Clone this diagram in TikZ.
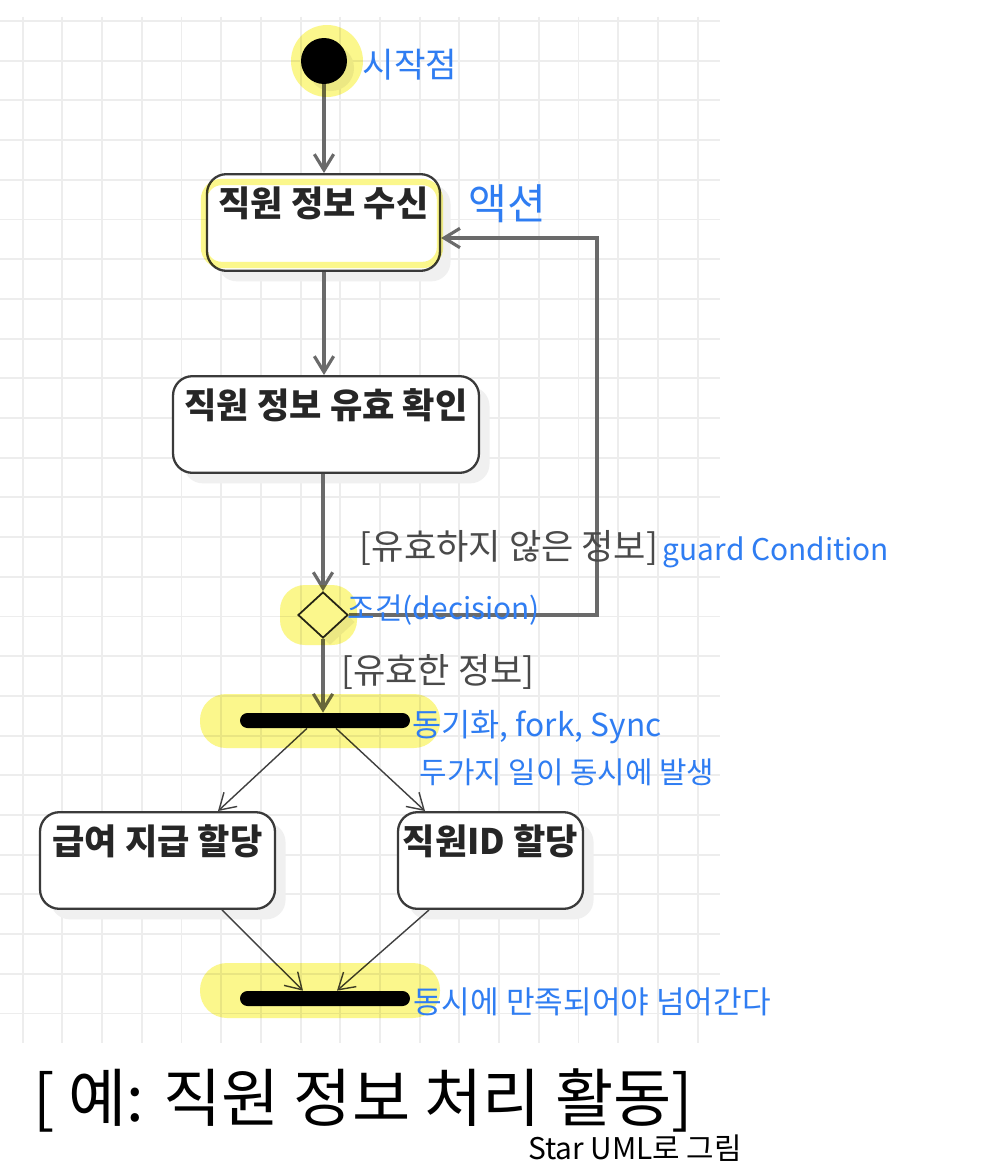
\documentclass[tikz,border=0pt]{standalone}
\usepackage{fontspec}
\setmainfont{Noto Sans CJK KR}
\usetikzlibrary{arrows.meta}
\usetikzlibrary{shapes.geometric}
\usetikzlibrary{shadows}
\definecolor{gridgray}{HTML}{EDEDED}
\definecolor{flowgray}{HTML}{6A6A6A}
\definecolor{boxline}{HTML}{3A3A3A}
\definecolor{noteblue}{HTML}{2F7DF2}
\definecolor{hlyellow}{HTML}{FBF78C}
\definecolor{guardgray}{HTML}{4A4A4A}
\tikzset{
  gridline/.style={draw=gridgray, line width=1.1pt},
  action/.style={draw=boxline, line width=1.3pt, rounded corners=11pt, fill=white,
    inner sep=0pt, text height=24pt, text depth=31pt,
    font=\bfseries\fontsize{20}{22}\selectfont, text=black!85,
    drop shadow={shadow xshift=6pt, shadow yshift=-6pt, fill=black!6, opacity=1}},
  startdot/.style={circle, fill=black, minimum size=0.92cm, inner sep=0pt,
    drop shadow={shadow xshift=4pt, shadow yshift=-4pt, fill=black!6, opacity=1}},
  decision/.style={diamond, draw=black!85, line width=1pt, fill=white,
    minimum width=1cm, minimum height=0.92cm, inner sep=0pt,
    drop shadow={shadow xshift=4pt, shadow yshift=-4pt, fill=black!6, opacity=1}},
  bar/.style={fill=black, rounded corners=0.15cm, minimum width=3.4cm,
    minimum height=0.3cm, inner sep=0pt},
  flow/.style={draw=flowgray, line width=1.8pt, -{Straight Barb[length=9pt,width=11pt]}},
  split/.style={draw=black!75, line width=0.8pt, -{Straight Barb[length=9pt,width=11pt]}},
  guard/.style={text=guardgray, font=\fontsize{20}{22}\selectfont},
  note/.style={text=noteblue, font=\fontsize{#1}{#1}\selectfont},
  highlight/.style={fill=hlyellow},
}
\begin{document}
\begin{tikzpicture}[x=0.02cm, y=-0.02cm]
\useasboundingbox (0,0) rectangle (1000,1176);
\fill[white] (0,0) rectangle (1000,1176);
% background grid
\foreach \gx in {0,...,17}
  \draw[gridline] (22.7+39.7*\gx,17) -- (22.7+39.7*\gx,1043);
\foreach \gy in {0,...,25}
  \draw[gridline] (0,21+39.7*\gy) -- (720,21+39.7*\gy);

\node[startdot] (start) at (324,61) {};
\node[action, minimum width=4.66cm] (recv) at (323.5,222.5) {직원 정보 수신};
\node[action, minimum width=6.12cm] (check) at (326,424.5) {직원 정보 유효 확인};
\node[decision] (dec) at (323,615) {};
\node[bar] (fork) at (325,720.5) {};
\node[action, minimum width=4.7cm] (pay) at (157.5,860.5) {급여 지급 할당};
\node[action, minimum width=3.7cm] (idass) at (490.5,860.5) {직원ID 할당};
\node[bar] (join) at (325,998.5) {};
\coordinate (loop) at (597,238);

\draw[flow] (start.south) -- (start.south |- recv.north);
\draw[flow] (recv.south -| start) -- (check.north -| start);
\draw[flow] (check.south -| dec) -- (dec.north);
\draw[flow] (dec.east) -| (loop) -- (loop -| recv.east);
\draw[flow] (dec.south) -- (dec.south |- fork.north);
\draw[split] ([xshift=-0.36cm]fork.south) -- ([xshift=1.21cm]pay.north);
\draw[split] ([xshift=0.22cm]fork.south) -- ([xshift=-1.31cm]idass.north);
\draw[split] ([xshift=1.29cm]pay.south) -- ([xshift=-0.44cm]join.north);
\draw[split] ([xshift=-1.23cm]idass.south) -- ([xshift=0.24cm]join.north);

\node[guard] (nolabel) at (509,548) {[유효하지 않은 정보]};
\node[guard] (oklabel) at (438,672) {[유효한 정보]};

% highlighter marks
\begin{scope}[blend mode=multiply]
\fill[highlight] (327,61) circle[radius=0.72cm];
\draw[hlyellow, line width=3.6pt, rounded corners=10pt] (204,182) rectangle (440,265);
\fill[highlight, rounded corners=0.5cm] (280,585) rectangle (357,645);
\fill[highlight, rounded corners=0.52cm] (200,694) rectangle (440,748);
\fill[highlight, rounded corners=0.54cm] (200,963) rectangle (440,1018);
\end{scope}

% hand-written notes
\node[note=19.5] (startnote) at (410,65) {시작점};
\node[note=24] (actnote) at (507,204) {액션};
\node[note=17] (guardnote) at (776,552) {guard Condition};
\node[note=17] (decnote) at (444,610) {조건(decision)};
\node[note=18] (forknote) at (537,727) {동기화, fork, Sync};
\node[note=17] (bothnote) at (567,772) {두가지 일이 동시에 발생};
\node[note=17.7] (joinnote) at (592,1002) {동시에 만족되어야 넘어간다};

\node[font=\fontsize{36}{40}\selectfont] (title) at (363,1100) {[ 예: 직원 정보 처리 활동]};
\node[font=\fontsize{17}{18}\selectfont] (tool) at (635,1148) {Star UML로 그림};
\end{tikzpicture}
\end{document}
